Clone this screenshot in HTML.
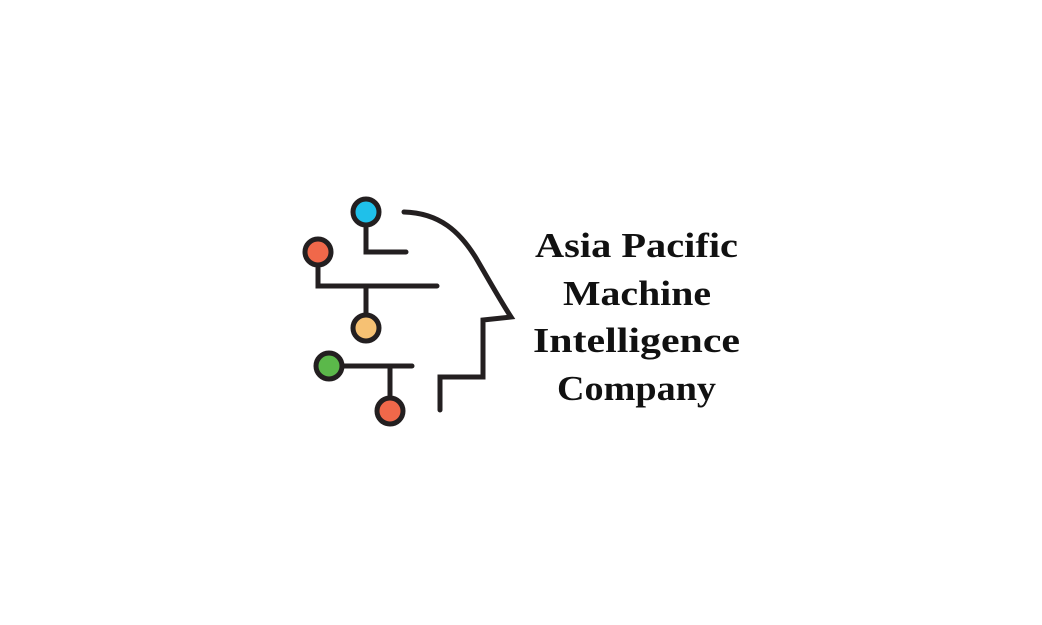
<!DOCTYPE html>
<html><head><style>html,body{margin:0;padding:0;background:#fff;width:1042px;height:625px;overflow:hidden}</style></head>
<body>
<svg width="1042" height="625" viewBox="0 0 1042 625" xmlns="http://www.w3.org/2000/svg">
<g fill="none" stroke="#231f20" stroke-width="5" stroke-linecap="round" stroke-linejoin="miter">
<path d="M366 228 V252 H406"/>
<path d="M318 268 V286 H437"/>
<path d="M366 286 V313"/>
<path d="M344 366 H412"/>
<path d="M390 366 V395"/>
<path d="M404 212 C440 213 460 232 476 258 C490 282 500 300 511 317 L483 320 V377 H440 V410"/>
</g>
<g stroke="#231f20" stroke-width="5">
<circle cx="366" cy="212" r="13" fill="#1fc0ea"/>
<circle cx="318" cy="252" r="13" fill="#f0684a"/>
<circle cx="366" cy="328" r="13" fill="#f6c173"/>
<circle cx="329" cy="366" r="13" fill="#5bb84a"/>
<circle cx="390" cy="411" r="13" fill="#f0684a"/>
</g>
<g font-family="'Liberation Serif', serif" font-weight="bold" font-size="35" fill="#111">
<text x="535" y="257" textLength="203" lengthAdjust="spacingAndGlyphs">Asia Pacific</text>
<text x="563" y="305" textLength="148" lengthAdjust="spacingAndGlyphs">Machine</text>
<text x="533" y="352" textLength="207" lengthAdjust="spacingAndGlyphs">Intelligence</text>
<text x="557" y="400" textLength="159" lengthAdjust="spacingAndGlyphs">Company</text>
</g>
</svg>
</body></html>
